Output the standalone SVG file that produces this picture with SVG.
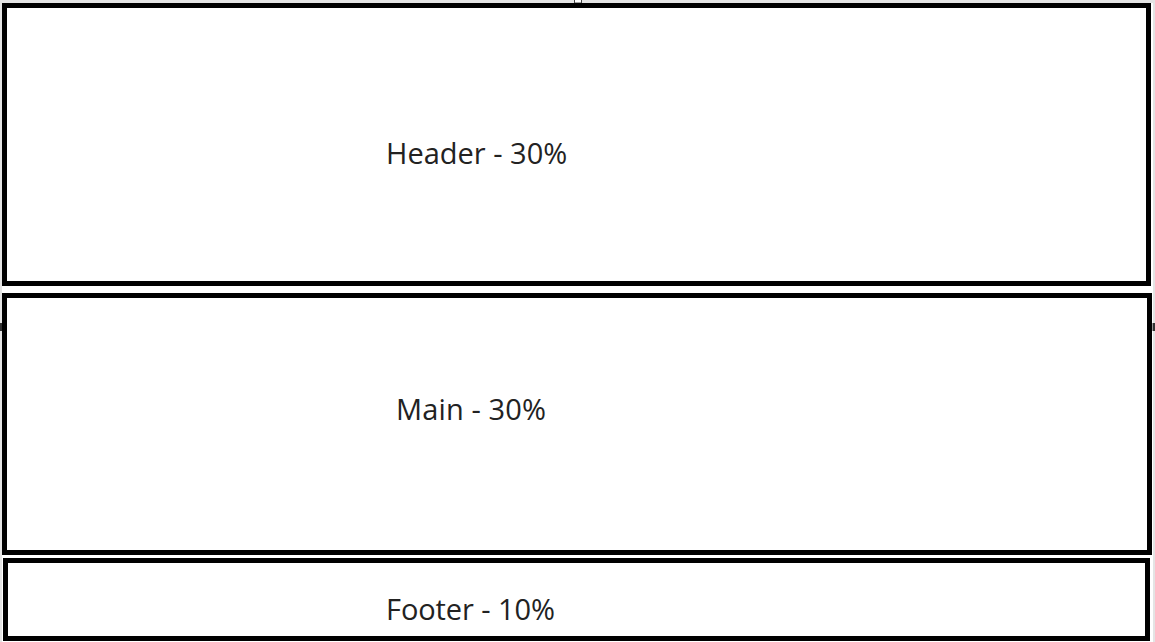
<svg xmlns="http://www.w3.org/2000/svg" width="1155" height="642" viewBox="0 0 1155 642">
<style>
.box{fill:#ffffff;stroke:#000000;stroke-width:5}
.lbl{font-family:"Open Sans","Liberation Sans",sans-serif;font-size:29px;fill:#222222}
.edge{fill:#e4e4e4}
.handle{fill:#ffffff;stroke:#444444;stroke-width:1}
</style>
<rect x="0" y="0" width="1155" height="642" fill="#ffffff"/>
<rect class="edge" x="0" y="0" width="1155" height="3"/>
<rect class="edge" x="0" y="0" width="2" height="642"/>
<rect class="edge" x="1153" y="0" width="2" height="642"/>
<rect class="handle" x="574.5" y="-1" width="7" height="4"/>
<rect x="0" y="323" width="2.5" height="8" fill="#333333"/>
<rect x="1152.5" y="323" width="2.5" height="8" fill="#333333"/>
<g id="header">
<rect class="box" x="4.5" y="5.5" width="1144" height="278"/>
<text class="lbl" x="386" y="164">Header - 30%</text>
</g>
<g id="main">
<rect class="box" x="4.5" y="295.5" width="1145" height="257"/>
<text class="lbl" x="396" y="420" textLength="150" lengthAdjust="spacing">Main - 30%</text>
</g>
<g id="footer">
<rect class="box" x="5.5" y="560.5" width="1142" height="78"/>
<text class="lbl" x="386" y="620" textLength="169" lengthAdjust="spacing">Footer - 10%</text>
</g>
<g id="connectors"></g>
</svg>
